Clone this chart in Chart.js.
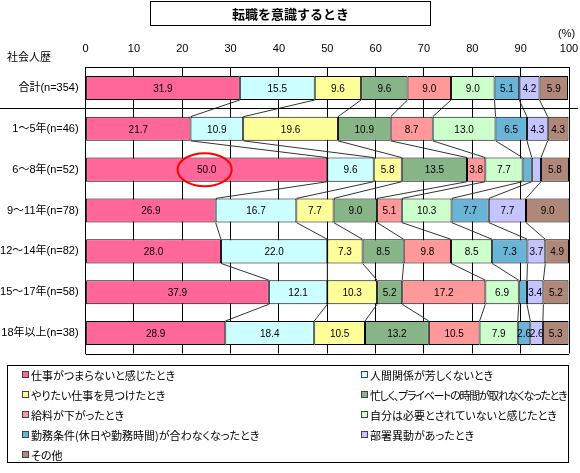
<!DOCTYPE html>
<html lang="ja">
<head>
<meta charset="utf-8">
<script src="https://cdn.jsdelivr.net/npm/chart.js@4.4.1/dist/chart.umd.min.js"></script>
<style>
  html, body { margin: 0; padding: 0; background: #fff; }
  body { width: 580px; height: 473px; position: relative; overflow: hidden; font-family: "Liberation Sans", "Noto Sans CJK JP", sans-serif; color: #000; }
  #chart { position: absolute; left: 0; top: 0; }
  #title { position: absolute; left: 150px; top: 1px; width: 279px; height: 23px; border: 1px solid #000; text-align: center; font-weight: bold; font-size: 13px; line-height: 23px; font-family: "Noto Sans CJK JP", sans-serif; }
  #ylabel { position: absolute; left: 7px; top: 49px; font-size: 11px; line-height: 16px; }
  #unit { position: absolute; left: 558px; top: 25px; font-size: 11px; line-height: 16px; }
  #legend { position: absolute; left: 7px; top: 365px; height: 96px; border: 1px solid #000; display: grid; grid-template-columns: 339px auto; grid-auto-rows: 20px; padding-left: 14px; width: 546px; font-family: "Noto Sans CJK JP", sans-serif; font-feature-settings: "palt"; }
  #legend .item { display: flex; align-items: center; font-size: 11px; white-space: nowrap; margin-top: -3px; }
  #legend .sw { width: 5px; height: 5px; border: 1px solid #444; margin-right: 2px; flex: none; }
</style>
</head>
<body>
<canvas id="chart" width="580" height="473"></canvas>
<div id="title">転職を意識するとき</div>
<div id="ylabel">社会人歴</div>
<div id="unit">(%)</div>
<div id="legend"></div>
<script>
// 社会人歴の区分
const categories = ['合計(n=354)', '1～5年(n=46)', '6～8年(n=52)', '9～11年(n=78)', '12～14年(n=82)', '15～17年(n=58)', '18年以上(n=38)'];

const seriesNames = [
  '仕事がつまらないと感じたとき',
  '人間関係が芳しくないとき',
  'やりたい仕事を見つけたとき',
  '忙しく、プライベートの時間が取れなくなったとき',
  '給料が下がったとき',
  '自分は必要とされていないと感じたとき',
  '勤務条件(休日や勤務時間)が合わなくなったとき',
  '部署異動があったとき',
  'その他'
];

const seriesColors = ['#FF6699', '#CCFFFF', '#FFFF99', '#88B588', '#FF9999', '#CCFFCC', '#6AB4D8', '#C4C4FF', '#B0887A'];

// 各理由の割合 (%)
const boring     = [31.9, 21.7, 50.0, 26.9, 28.0, 37.9, 28.9];
const relations  = [15.5, 10.9,  9.6, 16.7, 22.0, 12.1, 18.4];
const wantedJob  = [ 9.6, 19.6,  5.8,  7.7,  7.3, 10.3, 10.5];
const tooBusy    = [ 9.6, 10.9, 13.5,  9.0,  8.5,  5.2, 13.2];
const payCut     = [ 9.0,  8.7,  3.8,  5.1,  9.8, 17.2, 10.5];
const notNeeded  = [ 9.0, 13.0,  7.7, 10.3,  8.5,  6.9,  7.9];
const conditions = [ 5.1,  6.5,  1.9,  7.7,  7.3,  1.7,  2.6];
const transfer   = [ 4.2,  4.3,  1.9,  7.7,  3.7,  3.4,  2.6];
const other      = [ 5.9,  4.3,  5.8,  9.0,  4.9,  5.2,  5.3];

const seriesValues = [boring, relations, wantedJob, tooBusy, payCut, notNeeded, conditions, transfer, other];

const xTicks = [0, 10, 20, 30, 40, 50, 60, 70, 80, 90, 100];

const FONT = '"Liberation Sans", "Noto Sans CJK JP", sans-serif';
Chart.defaults.font.family = FONT;
Chart.defaults.color = '#000';

// 系列線・数値・枠線・強調の楕円
const overlay = {
  id: 'overlay',
  afterDatasetsDraw(chart) {
    const ctx = chart.ctx;
    const metas = chart.data.datasets.map((d, i) => chart.getDatasetMeta(i));

    // series lines between neighbouring bars
    ctx.save();
    ctx.strokeStyle = '#333';
    ctx.lineWidth = 1;
    for (let r = 0; r < categories.length - 1; r++) {
      for (let k = 0; k < metas.length - 1; k++) {
        const a = metas[k].data[r];
        const b = metas[k].data[r + 1];
        ctx.beginPath();
        ctx.moveTo(a.x, a.y + a.height / 2);
        ctx.lineTo(b.x, b.y - b.height / 2);
        ctx.stroke();
      }
    }
    ctx.restore();

    // value labels
    ctx.save();
    ctx.font = '10px ' + FONT;
    ctx.fillStyle = '#000';
    ctx.textAlign = 'center';
    ctx.textBaseline = 'middle';
    metas.forEach((meta, i) => {
      meta.data.forEach((el, j) => {
        const v = seriesValues[i][j];
        if (v < 2) return;
        ctx.fillText(v.toFixed(1), (el.x + el.base) / 2, el.y + 1);
      });
    });
    ctx.restore();

    // red ellipse round 50.0
    const hit = metas[0].data[2];
    ctx.save();
    ctx.strokeStyle = '#FF0000';
    ctx.lineWidth = 2;
    ctx.beginPath();
    ctx.ellipse((hit.x + hit.base) / 2 - 2, hit.y, 27, 16.5, 0, 0, Math.PI * 2);
    ctx.stroke();
    ctx.restore();
  },
  afterDraw(chart) {
    const ctx = chart.ctx;
    const area = chart.chartArea;
    const y = chart.scales.y;
    ctx.save();
    ctx.strokeStyle = '#000';
    ctx.lineWidth = 1;
    // bottom frame
    ctx.beginPath();
    ctx.moveTo(area.left, Math.round(area.bottom) + 0.5);
    ctx.lineTo(area.right, Math.round(area.bottom) + 0.5);
    ctx.stroke();
    // separator under 合計
    const sep = Math.round((y.getPixelForValue(0) + y.getPixelForValue(1)) / 2) + 0.5;
    ctx.beginPath();
    ctx.moveTo(0, sep);
    ctx.lineTo(578, sep);
    ctx.stroke();
    ctx.restore();
  }
};

const ctx = document.getElementById('chart').getContext('2d');
new Chart(ctx, {
  type: 'bar',
  data: {
    labels: categories,
    datasets: seriesNames.map((name, i) => ({
      label: name,
      data: seriesValues[i],
      backgroundColor: seriesColors[i],
      borderColor: '#000',
      borderWidth: 1,
      borderSkipped: false,
      barPercentage: 0.59,
      categoryPercentage: 1
    }))
  },
  options: {
    responsive: false,
    animation: false,
    indexAxis: 'y',
    layout: { padding: { left: 0, top: 40, right: 11, bottom: 119.5 } },
    plugins: { legend: { display: false }, tooltip: { enabled: false } },
    scales: {
      x: {
        position: 'top',
        stacked: true,
        min: 0,
        max: 100,
        afterBuildTicks: s => { s.ticks = xTicks.map(v => ({ value: v })); },
        ticks: { color: '#000', font: { size: 11 }, padding: 0, maxRotation: 0, autoSkip: false },
        grid: { color: '#000', lineWidth: 1, drawTicks: true, tickLength: 12, tickColor: 'rgba(0,0,0,0)' },
        border: { color: '#000' },
        afterFit: s => { s.height = 27.5; }
      },
      y: {
        stacked: true,
        ticks: { color: '#000', font: { size: 11 }, padding: 7 },
        grid: { display: false, drawTicks: false },
        border: { color: '#000' },
        afterFit: s => { s.width = 85.6; }
      }
    }
  },
  plugins: [overlay]
});

// 凡例 (2列)
const legend = document.getElementById('legend');
seriesNames.forEach((name, i) => {
  const item = document.createElement('div');
  item.className = 'item';
  const sw = document.createElement('span');
  sw.className = 'sw';
  sw.style.background = seriesColors[i];
  item.appendChild(sw);
  item.appendChild(document.createTextNode(name));
  if (i === 3) item.style.letterSpacing = '-1.3px'; // 長い項目は詰める
  legend.appendChild(item);
});
</script>
</body>
</html>
